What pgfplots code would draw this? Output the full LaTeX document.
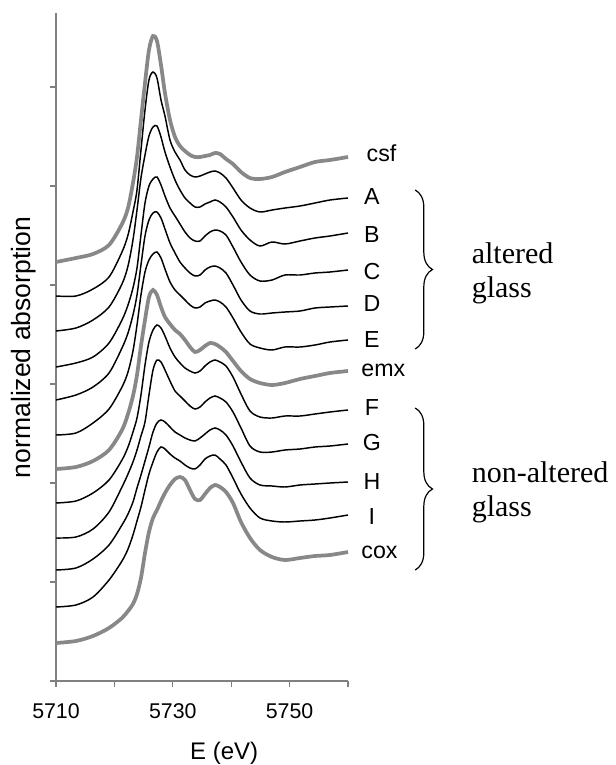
\documentclass[border=0pt]{standalone}
\usepackage{pgfplots}
\pgfplotsset{compat=1.18}
\usepackage{pgfplotstable}
\usepackage{fontspec}
\setmainfont{Liberation Sans}
\newfontfamily\seriffont{Liberation Serif}
\usetikzlibrary{decorations.pathreplacing}
\definecolor{refgray}{RGB}{136,136,136}
\definecolor{axgray}{RGB}{128,128,128}
\newcommand\lab{\fontsize{17.4}{20}\selectfont}
\newcommand\serifbig{\seriffont\fontsize{22.5}{25.5}\selectfont}

\pgfplotstableread{
Ev csf ca cb cc cd ce emx cf cg ch ci cox
5710.00 419 385 350 314 281 246 212 178 143 111 74 38
5713.42 423 385 353 318 286 248 214 180 144 113 76 40
5716.34 427 392 361 324 294 258 220 188 152 122 84 45
5719.08 436 404 374 338 308 272 231 201 169 136 101 53
5721.30 457 429 397 361 333 294 251 221 194 156 120 63
5722.33 473 446 415 376 348 309 267 234 207 167 132 70
5723.18 498 469 441 393 366 330 285 249 219 179 146 77
5723.87 524 491 471 413 386 356 306 263 231 193 160 87
5724.55 561 531 503 446 416 386 335 286 245 206 174 103
5725.24 598 571 526 478 445 409 361 316 259 220 191 128
5725.92 631 601 545 495 461 421 384 339 286 234 207 149
5726.61 645 609 554 502 468 427 391 351 311 249 219 163
5727.29 640 603 555 504 469 429 386 356 321 258 229 171
5727.98 616 581 544 496 463 423 374 353 319 261 234 180
5728.66 588 565 529 485 452 412 364 345 311 259 232 188
5729.52 561 541 514 473 438 399 357 333 300 254 227 196
5730.38 544 529 501 465 428 391 351 324 290 249 223 202
5731.23 535 521 491 457 419 386 347 318 285 246 220 204
5732.09 530 511 483 449 413 381 341 313 280 243 216 201
5732.95 526 506 478 443 408 376 334 310 275 241 213 191
5733.80 524 504 474 440 405 373 329 308 272 240 212 182
5734.66 524 505 474 440 406 374 331 310 274 243 216 181
5735.51 525 507 477 445 411 378 335 315 279 247 222 187
5736.37 526 509 479 449 414 380 338 319 283 251 225 193
5737.23 528 510 481 451 415 381 337 321 285 253 226 196
5738.08 527 508 479 450 413 379 334 319 283 251 222 194
5739.11 522 503 474 446 408 374 329 315 279 246 216 189
5740.31 517 493 464 434 396 363 320 304 269 235 203 178
5741.68 509 481 451 419 381 349 310 287 253 219 187 159
5743.22 503 473 441 406 370 337 302 270 235 203 173 143
5744.93 502 469 435 400 367 333 298 264 229 196 163 131
5746.99 504 471 439 401 368 331 296 263 229 195 160 124
5749.21 509 473 437 406 369 334 298 265 231 194 159 121
5751.78 514 475 440 406 370 334 302 265 232 196 160 123
5754.35 519 478 443 408 373 336 305 267 234 197 161 125
5756.92 521 481 445 409 374 339 308 269 235 198 163 126
5760.00 524 483 448 411 375 341 310 271 237 199 166 129
}\spectra

\begin{document}
\begin{tikzpicture}
\useasboundingbox (-42pt,-63pt) rectangle (419.25pt,510.75pt);
\begin{axis}[
  at={(0,0)}, anchor=south west,
  scale only axis, width=219pt, height=501pt,
  xmin=5710, xmax=5760, ymin=0, ymax=668,
  axis lines=left,
  axis line style={-, axgray, line width=0.9pt},
  tick align=outside, major tick length=4.5pt,
  tick style={axgray, line width=0.9pt},
  xtick={5710,5720,5730,5740,5750,5760},
  xticklabels={5710,,5730,,5750,},
  ytick={0,99,198,297,396,495,594},
  yticklabels={,,,,,,},
  /pgf/number format/assume math mode=true,
  xticklabel style={font=\fontsize{16}{19}\selectfont, yshift=-9pt},
  clip=false,
]
\addplot[black, line width=1.1pt, smooth, tension=0.5] table[x=Ev,y=ca]{\spectra};
\addplot[black, line width=1.1pt, smooth, tension=0.5] table[x=Ev,y=cb]{\spectra};
\addplot[black, line width=1.1pt, smooth, tension=0.5] table[x=Ev,y=cc]{\spectra};
\addplot[black, line width=1.1pt, smooth, tension=0.5] table[x=Ev,y=cd]{\spectra};
\addplot[black, line width=1.1pt, smooth, tension=0.5] table[x=Ev,y=ce]{\spectra};
\addplot[black, line width=1.1pt, smooth, tension=0.5] table[x=Ev,y=cf]{\spectra};
\addplot[black, line width=1.1pt, smooth, tension=0.5] table[x=Ev,y=cg]{\spectra};
\addplot[black, line width=1.1pt, smooth, tension=0.5] table[x=Ev,y=ch]{\spectra};
\addplot[black, line width=1.1pt, smooth, tension=0.5] table[x=Ev,y=ci]{\spectra};
\addplot[refgray, line width=2.8pt, smooth, tension=0.5] table[x=Ev,y=csf]{\spectra};
\addplot[refgray, line width=2.8pt, smooth, tension=0.5] table[x=Ev,y=emx]{\spectra};
\addplot[refgray, line width=2.8pt, smooth, tension=0.5] table[x=Ev,y=cox]{\spectra};

\node[anchor=west, font=\lab] at (axis cs:5762.4,528) {csf};
\node[font=\lab] at (axis cs:5764.1,484) {A};
\node[font=\lab] at (axis cs:5764.1,446) {B};
\node[font=\lab] at (axis cs:5764.1,409) {C};
\node[font=\lab] at (axis cs:5764.1,377) {D};
\node[font=\lab] at (axis cs:5764.1,341) {E};
\node[anchor=west, font=\lab] at (axis cs:5761.5,311) {emx};
\node[font=\lab] at (axis cs:5764.1,273) {F};
\node[font=\lab] at (axis cs:5764.1,238) {G};
\node[font=\lab] at (axis cs:5764.1,199) {H};
\node[font=\lab] at (axis cs:5764.1,164) {I};
\node[anchor=west, font=\lab] at (axis cs:5761.5,129) {cox};

\draw[decorate, decoration={brace, amplitude=13pt}, line width=0.9pt]
  (axis cs:5771.5,491) -- (axis cs:5771.5,332);
\draw[decorate, decoration={brace, amplitude=13pt}, line width=0.9pt]
  (axis cs:5771.5,273) -- (axis cs:5771.5,111);
\node[anchor=west, align=left, font=\serifbig] at (axis cs:5780.4,408) {altered\\glass};
\node[anchor=west, align=left, font=\serifbig] at (axis cs:5780.4,189) {non-altered\\glass};

\node[font=\fontsize{18}{21}\selectfont] at (axis cs:5738.8,-72) {E (eV)};
\node[rotate=90, font=\fontsize{19.9}{23}\selectfont] at (axis cs:5704.5,333.5) {normalized absorption};
\end{axis}
\end{tikzpicture}
\end{document}
